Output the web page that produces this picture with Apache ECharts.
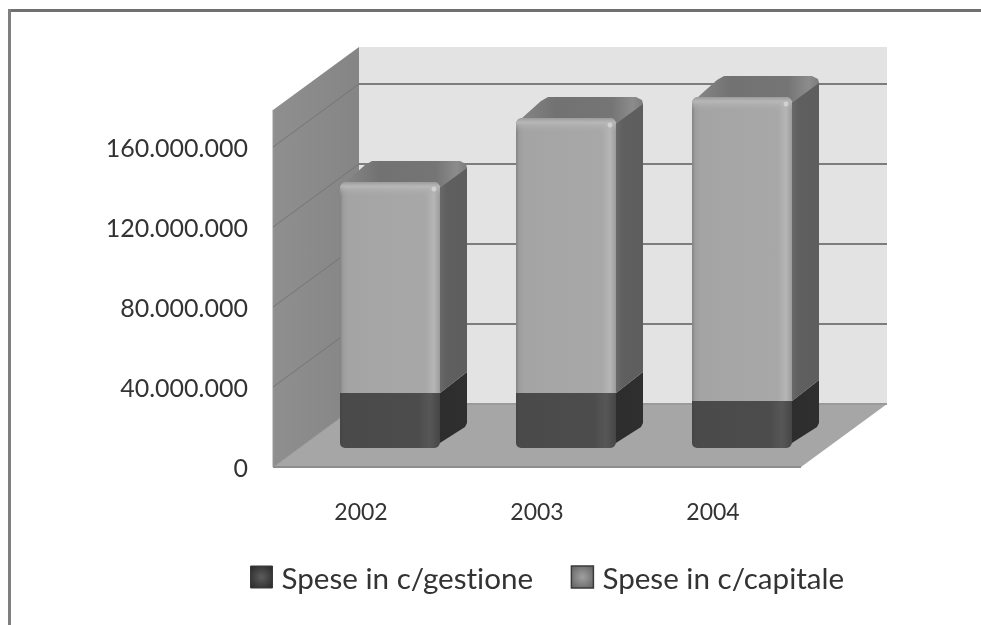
<!DOCTYPE html>
<html>
<head>
<meta charset="utf-8">
<style>
html,body{margin:0;padding:0;background:#fff}
#c{width:981px;height:625px;filter:blur(0.5px)}
svg text{font-variant-ligatures:none;font-feature-settings:"liga" 0,"clig" 0}
</style>
<script src="https://cdn.jsdelivr.net/npm/echarts@6/dist/echarts.min.js"></script>
</head>
<body>
<div id="c"></div>
<script>
var categories = ['2002', '2003', '2004'];
var gestione = [27500000, 27500000, 23500000];
var capitale = [105500000, 137500000, 152000000];
var tickValues = [0, 40000000, 80000000, 120000000, 160000000];
var axisMax = 178500000;
var seriesNames = ['Spese in c/gestione', 'Spese in c/capitale'];

// 3D projection, in pixels
var DX = 86, DY = 63;          // full depth of the floor
var BAR_DX = 29, BAR_DY = 19;  // front of the bars behind the front of the floor
var BAR_W = 100, SIDE_X = 27, SIDE_Y = 21;

function lin(x, y, x2, y2, stops) {
  return { type: 'linear', x: x, y: y, x2: x2, y2: y2,
    colorStops: stops.map(function (s) { return { offset: s[0], color: s[1] }; }) };
}
function poly(points, fill, extra) {
  return Object.assign({ type: 'polygon', shape: { points: points }, style: { fill: fill } }, extra || {});
}

function renderWalls(params, api) {
  var c = params.coordSys;
  var l = c.x, r = c.x + c.width, t = c.y, b = c.y + c.height;
  return { type: 'group', silent: true, children: [
    { type: 'rect', shape: { x: l + DX, y: t - DY, width: c.width, height: c.height }, style: { fill: '#e3e3e3' } },
    poly([[l, b], [l, t], [l + DX, t - DY], [l + DX, b - DY]], lin(0, 0, 1, 0, [[0, '#8f8f8f'], [1, '#858585']])),
    poly([[l, b], [r, b], [r + DX, b - DY], [l + DX, b - DY]], '#a6a6a6'),
    { type: 'line', shape: { x1: l, y1: b, x2: r, y2: b }, style: { stroke: '#8e8e8e', lineWidth: 2 } },
    { type: 'line', shape: { x1: l, y1: b, x2: l, y2: t }, style: { stroke: '#9a9a9a', lineWidth: 1 } }
  ] };
}

function renderGrid(params, api) {
  var c = params.coordSys;
  var y = api.coord([0, api.value(0)])[1];
  var l = c.x, r = c.x + c.width;
  var kids = [
    { type: 'line', shape: { x1: l, y1: y, x2: l + DX, y2: y - DY }, style: { stroke: api.value(0) === 0 ? '#8e8e8e' : '#757575', lineWidth: 1 } },
    { type: 'line', shape: { x1: l + DX, y1: y - DY, x2: r + DX, y2: y - DY }, style: { stroke: api.value(0) === 0 ? '#9a9a9a' : '#7d7d7d', lineWidth: 2 } }
  ];
  return { type: 'group', silent: true, children: kids };
}

function renderBar(dark) {
  return function (params, api) {
    var cx = api.coord([api.value(0), 0])[0] + BAR_DX;
    var yb = api.coord([0, api.value(1)])[1] - BAR_DY;
    var yt = api.coord([0, api.value(2)])[1] - BAR_DY;
    var x0 = cx - BAR_W / 2, x1 = cx + BAR_W / 2;
    var kids = [];
    var h = yb - yt;
    if (dark) {
      kids.push(poly([[x1 - 8, yb], [x1 - 3, yb - 1], [x1, yt], [x1 + SIDE_X, yt - SIDE_Y], [x1 + SIDE_X, yb - SIDE_Y - 4], [x1 + SIDE_X - 2, yb - SIDE_Y]],
        lin(0, 0, 1, 0, [[0, '#3a3a3a'], [0.2, '#2d2d2d'], [1, '#2f2f2f']])));
      kids.push({ type: 'rect', shape: { x: x0, y: yt, width: BAR_W, height: h, r: [0, 0, 6, 5] },
        style: { fill: lin(0, 0, 1, 0, [[0, '#444444'], [0.03, '#4a4a4a'], [0.78, '#4c4c4c'], [0.9, '#575757'], [1, '#464646']]) } });
    } else {
      kids.push(poly([[x1, yb], [x1, yt + 5], [x1 + SIDE_X, yt - SIDE_Y + 6], [x1 + SIDE_X, yb - SIDE_Y]],
        lin(0, 0, 1, 0, [[0, '#696969'], [0.25, '#5f5f5f'], [1, '#5e5e5e']])));
      kids.push(poly([[x0 + 2, yt + 2], [x0 + 6, yt], [x0 + 25, yt - SIDE_Y + 4], [x0 + 32, yt - SIDE_Y], [x1 + SIDE_X - 7, yt - SIDE_Y], [x1 + SIDE_X - 1, yt - SIDE_Y + 3], [x1 + SIDE_X, yt - SIDE_Y + 7], [x1 + 1, yt + 5], [x1 - 5, yt + 1]],
        lin(0, 0, 1, 0, [[0, '#878787'], [0.3, '#727272'], [0.75, '#757575'], [0.92, '#8c8c8c'], [1, '#7c7c7c']])));
      kids.push({ type: 'rect', shape: { x: x0, y: yt, width: BAR_W, height: h, r: [6, 6, 0, 0] },
        style: { fill: lin(0, 0, 1, 0, [[0, '#828282'], [0.03, '#9c9c9c'], [0.08, '#a4a4a4'], [0.86, '#a8a8a8'], [0.94, '#b6b6b6'], [1, '#9b9b9b']]) } });
      kids.push({ type: 'rect', shape: { x: x0, y: yt, width: BAR_W, height: 14, r: [6, 6, 0, 0] },
        style: { fill: lin(0, 0, 0, 1, [[0, 'rgba(155,155,155,1)'], [0.3, 'rgba(184,184,184,0.95)'], [0.55, 'rgba(184,184,184,0.45)'], [1, 'rgba(170,170,170,0)']]) } });
      kids.push({ type: 'circle', shape: { cx: x1 - 6, cy: yt + 7, r: 2.5 }, style: { fill: '#d8d8d8', opacity: 0.8 } });
    }
    return { type: 'group', children: kids };
  };
}

var bottoms = categories.map(function (c, i) { return [i, 0, gestione[i]]; });
var tops = categories.map(function (c, i) { return [i, gestione[i], gestione[i] + capitale[i]]; });

var chart = echarts.init(document.getElementById('c'), null, { renderer: 'svg' });
chart.setOption({
  animation: false,
  backgroundColor: '#ffffff',
  grid: { left: 273, right: 180, top: 110, bottom: 158 },
  xAxis: {
    type: 'category', data: categories,
    axisLine: { show: false }, axisTick: { show: false }, splitLine: { show: false },
    axisLabel: { margin: 32, color: '#333333', fontFamily: 'Lato', fontSize: 23 }
  },
  yAxis: {
    type: 'value', min: 0, max: axisMax, interval: 40000000,
    axisLine: { show: false }, axisTick: { show: false }, splitLine: { show: false },
    axisLabel: {
      showMaxLabel: false, margin: 25, color: '#333333', fontFamily: 'Lato', fontSize: 25, padding: [4, 0, 0, 0],
      formatter: function (v) { return String(v).replace(/\B(?=(\d{3})+(?!\d))/g, '.'); }
    }
  },
  legend: {
    left: 245, top: 557, itemWidth: 22, itemHeight: 22, itemGap: 37, icon: 'rect',
    textStyle: { fontFamily: 'Lato', fontSize: 29.6, color: '#333333', padding: [0, 0, 0, 4] },
    data: [
      { name: seriesNames[0], itemStyle: { color: { type: 'radial', x: 0.5, y: 0.5, r: 0.6, colorStops: [{ offset: 0, color: '#5c5c5c' }, { offset: 1, color: '#2f2f2f' }] }, borderColor: '#3a3a3a', borderWidth: 1 } },
      { name: seriesNames[1], itemStyle: { color: { type: 'radial', x: 0.5, y: 0.5, r: 0.6, colorStops: [{ offset: 0, color: '#a0a0a0' }, { offset: 1, color: '#6a6a6a' }] }, borderColor: '#3a3a3a', borderWidth: 1.5 } }
    ]
  },
  graphic: [
    { type: 'rect', silent: true, shape: { x: 8, y: 9, width: 973, height: 3 }, style: { fill: '#707070' } },
    { type: 'rect', silent: true, shape: { x: 8, y: 9, width: 3, height: 616 }, style: { fill: '#7f7f7f' } }
  ],
  series: [
    { type: 'custom', name: 'walls', z: 1, silent: true, data: [[0]], renderItem: renderWalls, encode: { x: -1, y: -1 }, tooltip: { show: false } },
    { type: 'custom', name: 'grid', z: 2, silent: true, data: tickValues.map(function (v) { return [v]; }), renderItem: renderGrid, encode: { y: 0 } },
    { type: 'custom', name: seriesNames[0], z: 3, data: bottoms, renderItem: renderBar(true), encode: { x: 0, y: [1, 2] }, itemStyle: { color: '#4c4c4c' } },
    { type: 'custom', name: seriesNames[1], z: 3, data: tops, renderItem: renderBar(false), encode: { x: 0, y: [1, 2] }, itemStyle: { color: '#a5a5a5' } }
  ]
});
</script>
</body>
</html>
